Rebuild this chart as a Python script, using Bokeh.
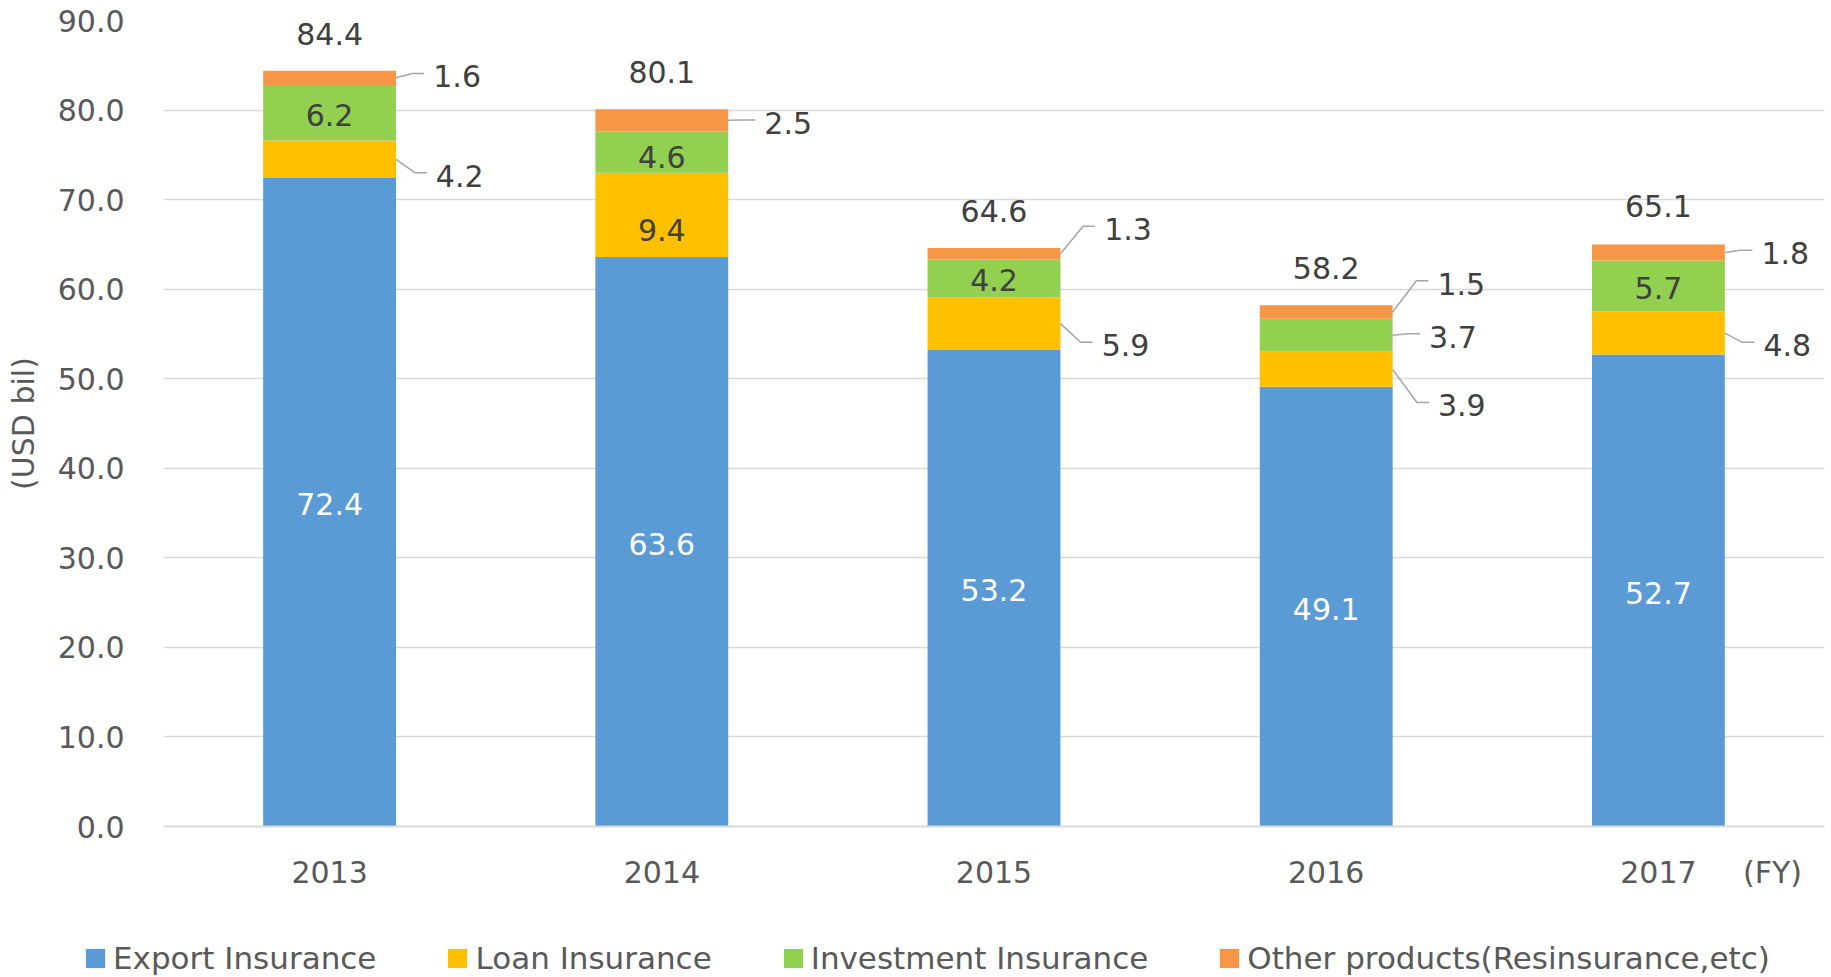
from bokeh.plotting import figure
from bokeh.models import (ColumnDataSource, Range1d, FixedTicker, PrintfTickFormatter,
                          Legend, LegendItem)
from bokeh.core.properties import value
from bokeh.embed import file_html
from bokeh.resources import INLINE

# ---------------- data ----------------
years = ["2013", "2014", "2015", "2016", "2017"]
export_ins = [72.4, 63.6, 53.2, 49.1, 52.7]
loan_ins = [4.2, 9.4, 5.9, 3.9, 4.8]
invest_ins = [6.2, 4.6, 4.2, 3.7, 5.7]
other_ins = [1.6, 2.5, 1.3, 1.5, 1.8]
totals = [84.4, 80.1, 64.6, 58.2, 65.1]
series_names = ["Export Insurance", "Loan Insurance", "Investment Insurance",
                "Other products(Resinsurance,etc)"]
y_ticks = [0, 10, 20, 30, 40, 50, 60, 70, 80, 90]
x_unit_label = "(FY)"

# ---------------- layout / style ----------------
colors = ["#5B9BD5", "#FFC000", "#92D050", "#F79646"]
FONT = "DejaVu Sans"
W, H = 1831, 977
LEG_H = 60
H1 = H - LEG_H
BL, BR, BT, BB = 163, 7, 20, 91
BAR_W = 0.4
YMAX = 90
px_x = (W - BL - BR) / len(years)      # pixels per x unit
px_y = (H1 - BT - BB) / YMAX           # pixels per y unit

# outside labels: (series index, year index, label centre y in data units)
out_spec = [(3, 0, 83.75), (1, 0, 72.67), (3, 1, 78.56), (3, 2, 66.68), (1, 2, 53.73),
            (3, 3, 60.61), (2, 3, 54.70), (1, 3, 47.01), (3, 4, 64.0), (1, 4, 53.73)]
# inside labels extra downward shift (px)
in_shift = {(1, 1): 15, (2, 1): 5}

series = [export_ins, loan_ins, invest_ins, other_ins]
xs = list(range(len(years)))

p = figure(width=W, height=H1, output_backend="svg", toolbar_location=None,
           x_range=Range1d(-0.5, len(years) - 0.5), y_range=Range1d(0, YMAX),
           min_border_left=BL, min_border_right=BR, min_border_top=BT, min_border_bottom=BB)
p.outline_line_color = None
p.background_fill_color = "white"
p.border_fill_color = "white"

keys = ["s0", "s1", "s2", "s3"]
src = ColumnDataSource(dict(x=xs, s0=export_ins, s1=loan_ins, s2=invest_ins, s3=other_ins))
rends = p.vbar_stack(keys, x="x", width=BAR_W, color=colors, line_color=None, source=src)

# segment bounds
bottoms = []
tops = []
for j in xs:
    acc = 0.0
    b_row, t_row = [], []
    for s in series:
        b_row.append(acc)
        acc += s[j]
        t_row.append(acc)
    bottoms.append(b_row)
    tops.append(t_row)

out_set = {(s, j) for s, j, _ in out_spec}

# inside labels
in_x, in_y, in_t, in_c, in_off = [], [], [], [], []
for si, s in enumerate(series):
    for j in xs:
        if (si, j) in out_set:
            continue
        in_x.append(j)
        in_y.append((bottoms[j][si] + tops[j][si]) / 2)
        in_t.append(f"{s[j]:.1f}")
        in_c.append("white" if si == 0 else "#404040")
        in_off.append(in_shift.get((si, j), 2))
p.text(x=in_x, y=in_y, text=in_t, text_color=in_c, y_offset=in_off,
       text_align="center", text_baseline="middle",
       text_font=value(FONT), text_font_size="30px")

# outside labels with leader lines
lx, ly, lt, mxs, mys = [], [], [], [], []
for si, j, yl in out_spec:
    mid = (bottoms[j][si] + tops[j][si]) / 2
    x0 = j + BAR_W / 2
    yline = yl + 3 / px_y
    dy_px = abs(yline - mid) * px_y
    dx = 15 + 0.28 * dy_px
    x1 = x0 + dx / px_x
    x2 = x1 + 12 / px_x
    mxs.append([x0, x1, x2])
    mys.append([mid, yline, yline])
    lx.append(x2 + 9 / px_x)
    ly.append(yl)
    lt.append(f"{series[si][j]:.1f}")
p.multi_line(xs=mxs, ys=mys, line_color="#A6A6A6", line_width=1.5)
p.text(x=lx, y=ly, text=lt, text_color="#404040", text_align="left", text_baseline="middle",
       text_font=value(FONT), text_font_size="30px")

# totals
p.text(x=xs, y=totals, text=[f"{t:.1f}" for t in totals], text_color="#404040",
       y_offset=-37, text_align="center", text_baseline="middle",
       text_font=value(FONT), text_font_size="30px")

# axes
p.yaxis.ticker = FixedTicker(ticks=y_ticks)
p.yaxis.formatter = PrintfTickFormatter(format="%.1f")
p.yaxis.axis_line_color = None
p.yaxis.major_tick_line_color = None
p.yaxis.minor_tick_line_color = None
p.yaxis.major_label_text_font = FONT
p.yaxis.major_label_text_font_size = "30px"
p.yaxis.major_label_text_color = "#595959"
p.yaxis.major_label_standoff = 33
p.yaxis.axis_label = "(USD bil)"
p.yaxis.axis_label_text_font = FONT
p.yaxis.axis_label_text_font_size = "30px"
p.yaxis.axis_label_text_font_style = "normal"
p.yaxis.axis_label_text_color = "#595959"
p.yaxis.axis_label_standoff = 14

fy_pos = (1772 - BL) / px_x - 0.5
p.xaxis.ticker = FixedTicker(ticks=xs + [fy_pos])
overrides = {j: years[j] for j in xs}
overrides[fy_pos] = x_unit_label
p.xaxis.major_label_overrides = overrides
p.xaxis.axis_line_color = "#D9D9D9"
p.xaxis.axis_line_width = 2
p.xaxis.major_tick_line_color = None
p.xaxis.minor_tick_line_color = None
p.xaxis.major_label_text_font = FONT
p.xaxis.major_label_text_font_size = "30px"
p.xaxis.major_label_text_color = "#595959"
p.xaxis.major_label_standoff = 22

p.xgrid.visible = False
p.ygrid.grid_line_color = "#D9D9D9"
p.ygrid.grid_line_width = 1.5

# ---------------- legend strip (separate root, so its frame starts at x=0) ----------------
pl = figure(width=W, height=LEG_H, output_backend="svg", toolbar_location=None,
            x_range=Range1d(0, 1), y_range=Range1d(0, 1),
            min_border_left=0, min_border_right=0, min_border_top=0, min_border_bottom=0,
            x_axis_location=None, y_axis_location=None)
pl.outline_line_color = None
pl.xgrid.visible = False
pl.ygrid.visible = False
dummies = [pl.vbar(x=[-10], top=[0], width=0.1, color=c, line_color=None) for c in colors]
legend = Legend(items=[LegendItem(label=n, renderers=[r]) for n, r in zip(series_names, dummies)],
                orientation="horizontal", location=(83, 1),
                label_text_font=FONT, label_text_font_size="31px", label_text_color="#595959",
                glyph_width=24, glyph_height=24, label_standoff=6, spacing=69,
                padding=0, margin=0, border_line_color=None, background_fill_alpha=0)
pl.add_layout(legend)

open("out.html", "w").write(file_html([p, pl], INLINE))
